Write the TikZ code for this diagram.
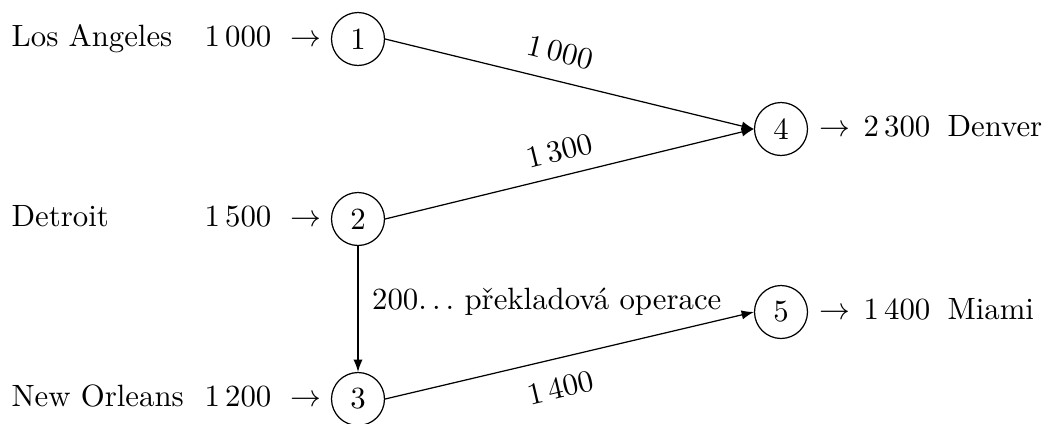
\documentclass[tikz,border=0pt]{standalone}
\usetikzlibrary{arrows.meta}
\newcommand{\spdots}{.\kern\fontdimen3\font.\kern\fontdimen3\font.}
\begin{document}
\begin{tikzpicture}[x=0.3247pt,y=-0.3247pt,
  city/.style={anchor=base west,inner sep=0pt},
  vertex/.style={draw,circle,minimum size=17.2pt,inner sep=0pt,line width=0.4pt},
  flow/.style={-{Latex[length=4pt,width=3pt]},line width=0.4pt},
  elab/.style={inner sep=0pt,sloped}]
\useasboundingbox (0,0) rectangle (1045,423);
% vertices
\node[vertex] (n1) at (358,39) {1};
\node[vertex] (n2) at (358,219) {2};
\node[vertex] (n3) at (358,399) {3};
\node[vertex] (n4) at (781,129) {4};
\node[vertex] (n5) at (781,312) {5};
% left texts
\node[city] (la) at (11,46.5) {Los Angeles};
\node[city] (de) at (11,226.5) {Detroit};
\node[city] (no) at (11,406.5) {New Orleans};
\node[city] (q1) at (204,46.5) {1\,000};
\node[city] (q2) at (204,226.5) {1\,500};
\node[city] (q3) at (204,406.5) {1\,200};
\node[city] (a1) at (290,46.5) {$\rightarrow$};
\node[city] (a2) at (290,226.5) {$\rightarrow$};
\node[city] (a3) at (290,406.5) {$\rightarrow$};
% right texts
\node[city] (a4) at (819,136.5) {$\rightarrow$};
\node[city] (a5) at (819,319.5) {$\rightarrow$};
\node[city] (q4) at (863,136.5) {2\,300};
\node[city] (q5) at (863,319.5) {1\,400};
\node[city] (dn) at (947,136.5) {Denver};
\node[city] (mi) at (947,319.5) {Miami};
% edges
\draw[flow] (n1.east) -- node[elab,pos=0.456,above=5.6pt] {1\,000} (n4.west);
\draw[flow] (n2.east) -- node[elab,pos=0.49,above=4.4pt] {1\,300} (n4.west);
\draw[flow] (n3.east) -- node[elab,pos=0.459,below=5.8pt] {1\,400} (n5.west);
\draw[flow] (n2) -- node[inner sep=0pt,pos=0.445,right=4.4pt] {200\spdots\ překladová operace} (n3);
\end{tikzpicture}
\end{document}
